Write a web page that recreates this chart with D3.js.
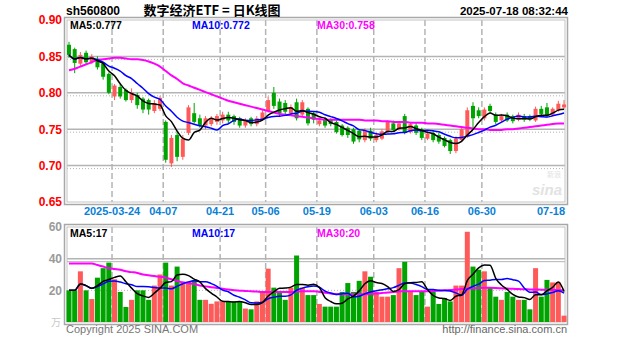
<!DOCTYPE html>
<html><head><meta charset="utf-8">
<script src="https://cdn.jsdelivr.net/npm/d3@7"></script>
<style>body{margin:0;background:#fff}svg{display:block}</style>
</head><body><svg id="c" width="627" height="342"></svg>
<script>
// ---- data ----
const openP  = [.866,.860,.840,.855,.842,.847,.840,.826,.795,.808,.804,.790,.797,.792,.790,.775,.778,.760,.703,.742,.712,.745,.772,.765,.755,.757,.760,.762,.770,.768,.765,.755,.765,.757,.764,.775,.800,.788,.786,.772,.787,.770,.778,.772,.757,.763,.763,.760,.755,.752,.750,.748,.735,.748,.735,.737,.747,.758,.750,.768,.746,.755,.750,.737,.745,.742,.738,.735,.720,.735,.740,.782,.776,.765,.782,.770,.762,.770,.768,.763,.768,.768,.762,.778,.780,.770,.776,.780];
const highP  = [.870,.862,.856,.858,.853,.850,.842,.828,.812,.812,.806,.806,.800,.794,.792,.790,.796,.762,.742,.748,.742,.783,.786,.770,.768,.768,.771,.774,.774,.770,.767,.765,.767,.768,.776,.795,.808,.792,.790,.784,.792,.790,.780,.775,.765,.766,.765,.762,.757,.754,.752,.750,.751,.752,.745,.750,.762,.762,.760,.771,.760,.758,.752,.747,.748,.745,.740,.737,.740,.752,.780,.787,.780,.780,.785,.773,.771,.773,.770,.773,.771,.770,.781,.782,.786,.780,.789,.790];
const lowP   = [.848,.827,.836,.838,.840,.832,.818,.798,.790,.792,.788,.786,.778,.772,.770,.772,.775,.704,.698,.706,.708,.742,.758,.752,.750,.754,.756,.758,.758,.756,.752,.752,.754,.754,.762,.773,.778,.768,.770,.770,.762,.768,.755,.758,.754,.752,.754,.744,.740,.738,.730,.732,.732,.734,.732,.735,.745,.746,.748,.743,.744,.742,.735,.735,.732,.730,.725,.716,.717,.733,.738,.752,.765,.762,.772,.757,.760,.760,.758,.761,.760,.761,.760,.768,.766,.768,.774,.778];
const closeP = [.852,.841,.852,.842,.850,.835,.822,.800,.810,.795,.790,.800,.783,.777,.777,.786,.793,.708,.738,.712,.737,.780,.760,.755,.765,.765,.768,.770,.762,.760,.755,.762,.757,.765,.773,.790,.782,.772,.774,.780,.765,.787,.758,.763,.762,.755,.757,.746,.742,.742,.733,.736,.748,.737,.742,.747,.760,.749,.758,.745,.757,.745,.738,.744,.735,.733,.727,.720,.737,.750,.776,.765,.768,.777,.775,.760,.768,.762,.761,.770,.763,.764,.778,.771,.769,.778,.785,.784];
const volume = [20,20,32,20,14.5,28,34,37.5,27,19,9.5,14,20,20,14,23,30,37.5,23,35,25.5,25.5,26.5,14,14,11.5,13,13,13,13,13,8.5,8,13,19,33.7,21.7,19,14,21.7,42,21.7,17,17,11.4,9.7,9.7,9.7,19,24.6,19,26,32,28.6,19,16,16,17,34,38,19,17,19,9.7,19,11.4,15,13,23,23,57,35,33,32,22,16,14,19,16,14,14,8,34,16,26.6,25,25,4];
const ma30Price = [.831,.833,.836,.839,.842,.845,.846,.847,.848,.848,.847,.846,.846,.845,.843,.840,.836,.830,.824,.819,.813,.810,.807,.804,.801,.798,.795,.792,.789,.787,.785,.783,.781,.779,.777,.775,.773,.771,.770,.769,.768,.767,.766,.765,.764,.763,.763,.763,.763,.763,.763,.763,.762,.762,.762,.761,.761,.760,.760,.760,.759,.759,.759,.758,.758,.757,.756,.755,.754,.753,.752,.751,.750,.750,.749,.749,.749,.750,.750,.751,.752,.753,.754,.755,.756,.757,.758,.758];
const ma30Vol = [37,37,37,37,37,36,35,34,33.5,33,32,31.5,31,30,29.5,29,28.5,28,27,26,25,24.5,24,23,22.5,22,21.5,21,20.5,20,19.8,19.6,19.4,19.2,19,19,19,19,19,19,19.2,19.4,19.5,19.5,19,18.5,18,17.5,17.5,17.5,17.5,17.5,17.6,17.8,18,18.3,18.6,19,19.3,19.5,19.5,19.5,19.5,19.5,19.6,19.8,20,20.2,20.5,20.8,21,21.3,21.5,21.6,21.6,21.5,21.3,21.1,21,20.8,20.7,20.6,20.5,20.4,20.3,20.2,20.1,20];
const priceTicks = [0.65,0.70,0.75,0.80,0.85,0.90];
const volTicks = [20,40,60];
const dateLabels = ["2025-03-24","04-07","04-21","05-06","05-19","06-03","06-16","06-30","07-18"];
const dateIndex  = [8,17,27,35,44,54,63,73,87];
const priceMaLabels = ["MA5:0.777","MA10:0.772","MA30:0.758"];
const volMaLabels = ["MA5:17","MA10:17","MA30:20"];
const maColors = ["#000000","#0000ff","#ff00ff"];

// ---- drawing ----
const svg = d3.select("#c");
const n = closeP.length;
const x = d3.scaleLinear().domain([0, n-1]).range([69, 69 + (n-1)*5.69]);
const y = d3.scaleLinear().domain([0.65, 0.90]).range([202, 20]);
const yv = d3.scaleLinear().domain([0, 60]).range([322, 227]);
const RED = "#ff5a5a", GREEN = "#00a400", GRID = "#b4b4b4";
const FONT = "'Liberation Sans', Arial, sans-serif";

function ma(arr, k){ return arr.map((_,i)=>{const s=arr.slice(Math.max(0,i-k+1),i+1);return d3.mean(s);}); }

function frame(top, bottom){
  svg.append("rect").attr("x",64.5).attr("y",top-2.5).attr("width",503).attr("height",bottom-top+5)
    .attr("fill","none").attr("stroke","#a8a8a8").attr("stroke-width",1.5);
  svg.append("rect").attr("x",67).attr("y",top).attr("width",498).attr("height",bottom-top)
    .attr("fill","none").attr("stroke","#c4c4c4").attr("stroke-width",1);
}

// main panel grid
priceTicks.slice(1,-1).forEach(t=>{
  svg.append("line").attr("x1",67).attr("x2",565).attr("y1",y(t)).attr("y2",y(t)).attr("stroke",GRID).attr("stroke-width",1.5);
  svg.append("line").attr("x1",67).attr("x2",565).attr("y1",y(t)+3).attr("y2",y(t)+3).attr("stroke",GRID).attr("stroke-width",1).attr("stroke-dasharray","1,2");
});
dateIndex.slice(0,-1).forEach(i=>{
  [[20,202],[227,322]].forEach(([a,b])=>{
    svg.append("line").attr("x1",x(i)-2.5).attr("x2",x(i)-2.5).attr("y1",a).attr("y2",b)
      .attr("stroke",GRID).attr("stroke-width",1.5).attr("stroke-dasharray","6,3");
  });
});
// volume grid
svg.append("line").attr("x1",67).attr("x2",565).attr("y1",yv(40)).attr("y2",yv(40)).attr("stroke",GRID).attr("stroke-width",1.5);
svg.append("line").attr("x1",67).attr("x2",565).attr("y1",yv(40)+3).attr("y2",yv(40)+3).attr("stroke",GRID).attr("stroke-width",1);
svg.append("line").attr("x1",67).attr("x2",565).attr("y1",yv(20)).attr("y2",yv(20)).attr("stroke",GRID).attr("stroke-width",1).attr("stroke-dasharray","1,2");

frame(20, 202);
frame(227, 322);

// watermark
svg.append("text").attr("x",532).attr("y",195).text("sina").attr("font-family",FONT).attr("font-style","italic")
  .attr("font-weight","bold").attr("font-size",15).attr("fill","#e2e2e2");
svg.append("text").attr("x",547).attr("y",177).text("新浪").attr("font-family","'Noto Sans CJK SC'").attr("font-size",7).attr("fill","#e2e2e2");

// candles
const cw = 4;
const g = svg.append("g");
g.selectAll("line.w").data(d3.range(n)).join("line")
  .attr("x1",i=>x(i)).attr("x2",i=>x(i)).attr("y1",i=>y(highP[i])).attr("y2",i=>y(lowP[i]))
  .attr("stroke",i=>closeP[i]>=openP[i]?RED:GREEN).attr("stroke-width",1);
g.selectAll("rect.b").data(d3.range(n)).join("rect")
  .attr("x",i=>x(i)-cw/2).attr("width",cw)
  .attr("y",i=>y(Math.max(openP[i],closeP[i])))
  .attr("height",i=>Math.max(1,Math.abs(y(openP[i])-y(closeP[i]))))
  .attr("fill",i=>closeP[i]>=openP[i]?RED:GREEN);

// volume bars
svg.append("g").selectAll("rect").data(d3.range(n)).join("rect")
  .attr("x",i=>x(i)-2.5).attr("width",5)
  .attr("y",i=>yv(volume[i])).attr("height",i=>yv(0)-yv(volume[i]))
  .attr("fill",i=>closeP[i]>=openP[i]?RED:GREEN);

// MA lines
const pMAs = [ma(closeP,5), ma(closeP,10), ma30Price];
const vMAs = [ma(volume,5), ma(volume,10), ma30Vol];
const lineP = d3.line().x((d,i)=>x(i)).y(d=>y(d)).curve(d3.curveMonotoneX);
const lineV = d3.line().x((d,i)=>x(i)).y(d=>yv(d)).curve(d3.curveMonotoneX);
[2,1,0].forEach(k=>{
  svg.append("path").attr("d",lineP(pMAs[k])).attr("fill","none").attr("stroke",maColors[k]).attr("stroke-width",k===2?2:1.5);
  svg.append("path").attr("d",lineV(vMAs[k])).attr("fill","none").attr("stroke",maColors[k]).attr("stroke-width",k===2?2:1.5);
});

// axes
const yAxis = svg.append("g").attr("transform","translate(62,0)")
  .call(d3.axisLeft(y).tickValues(priceTicks).tickFormat(d3.format(".2f")).tickSize(0));
yAxis.select(".domain").remove();
yAxis.selectAll("text").attr("fill","#ff0000").attr("font-family",FONT).attr("font-weight","bold").attr("font-size",12).attr("x",0);

const vAxis = svg.append("g").attr("transform","translate(62,0)")
  .call(d3.axisLeft(yv).tickValues(volTicks).tickFormat(d3.format("d")).tickSize(0));
vAxis.select(".domain").remove();
vAxis.selectAll("text").attr("fill","#9a9a9a").attr("font-family",FONT).attr("font-weight","bold").attr("font-size",12).attr("x",0);
svg.append("text").attr("x",61).attr("y",326).attr("text-anchor","end").text("万").attr("font-family","'Noto Sans CJK SC'")
  .attr("font-size",10).attr("fill","#c8c8c8");

const xAxis = svg.append("g").attr("transform","translate(0,206)")
  .call(d3.axisBottom(x).tickValues(dateIndex).tickFormat((d,i)=>dateLabels[i]).tickSize(0));
xAxis.select(".domain").remove();
xAxis.selectAll(".tick").attr("transform",d=>`translate(${d===n-1?x(d)-13:x(d)-2.5},0)`);
xAxis.selectAll("text").attr("fill","#0a7fd6").attr("font-family",FONT).attr("font-weight","bold").attr("font-size",11).attr("y",0).attr("dy","0.85em");

// header texts
svg.append("text").attr("x",66).attr("y",15).text("sh560800").attr("font-family",FONT).attr("font-weight","bold").attr("font-size",12).attr("fill","#000");
svg.append("text").attr("x",212).attr("y",15).attr("text-anchor","middle").text("数字经济ETF = 日K线图")
  .attr("font-family","'Noto Sans CJK SC'").attr("font-weight","bold").attr("font-size",13).attr("fill","#000");
svg.append("text").attr("x",568).attr("y",15).attr("text-anchor","end").text("2025-07-18 08:32:44")
  .attr("font-family",FONT).attr("font-weight","bold").attr("font-size",11.5).attr("fill","#000");

const labX = [70,192,317];
priceMaLabels.forEach((t,k)=>svg.append("text").attr("x",labX[k]).attr("y",29).text(t)
  .attr("font-family",FONT).attr("font-weight","bold").attr("font-size",10.5).attr("fill",maColors[k]));
volMaLabels.forEach((t,k)=>svg.append("text").attr("x",labX[k]).attr("y",237).text(t)
  .attr("font-family",FONT).attr("font-weight","bold").attr("font-size",10.5).attr("fill",maColors[k]));

// footer
svg.append("text").attr("x",66).attr("y",333).text("Copyright 2025 SINA.COM").attr("font-family",FONT).attr("font-size",11).attr("fill","#777");
svg.append("text").attr("x",567).attr("y",333).attr("text-anchor","end").text("http://finance.sina.com.cn").attr("font-family",FONT).attr("font-size",11).attr("fill","#666");
</script>
</body></html>
